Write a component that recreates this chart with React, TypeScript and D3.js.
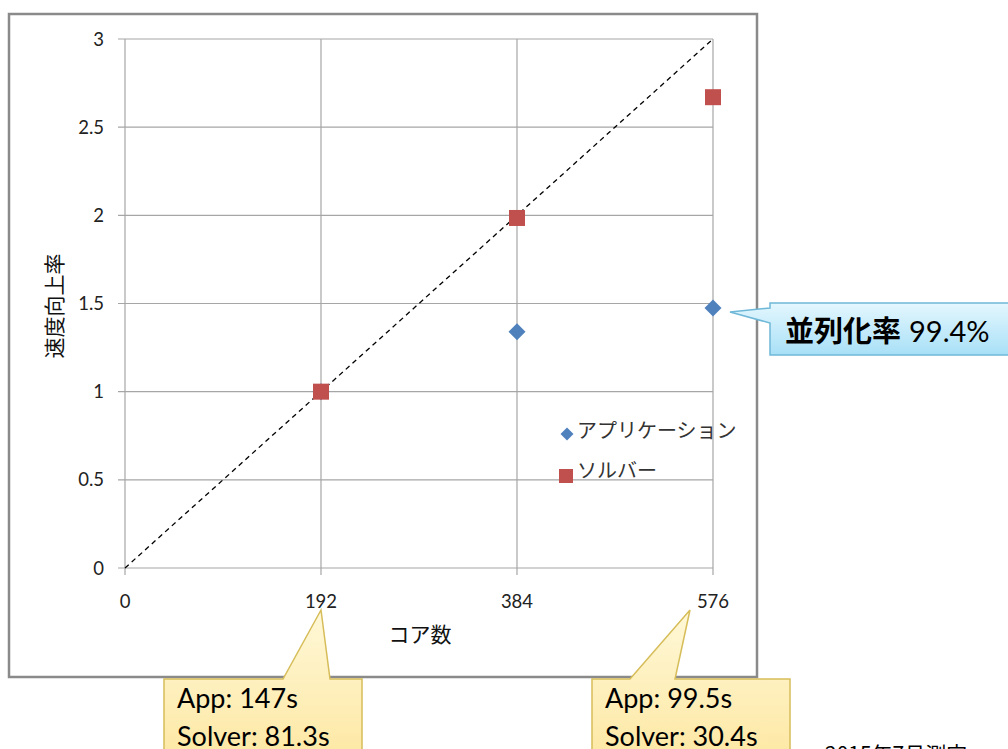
import React from "react";
import * as d3 from "d3";

const cores = [192, 384, 576];
const appSpeedup = [1.0, 1.34, 1.475];
const solverSpeedup = [1.0, 1.985, 2.67];
const xTicks = [0, 192, 384, 576];
const yTicks = [0, 0.5, 1, 1.5, 2, 2.5, 3];
const idealLine = [[0, 0], [576, 3]];
const legendLabels = ["アプリケーション", "ソルバー"];
const callout192 = ["App: 147s", "Solver: 81.3s"];
const callout576 = ["App: 99.5s", "Solver: 30.4s"];
const parallelLabel = ["並列化率", "99.4%"];
const xTitle = "コア数";
const yTitle = "速度向上率";
const dateNote = "2015年7月測定";

const W = 1008;
const H = 749;
const x = d3.scaleLinear().domain([0, 576]).range([125, 713]);
const y = d3.scaleLinear().domain([0, 3]).range([568, 39]);

const latin = "Lato, 'Noto Sans', sans-serif";
const cjk = "'Noto Sans CJK JP', 'Noto Sans', sans-serif";
const grid = "#a6a6a6";
const blue = "#4f81bd";
const red = "#c0504d";

export default function App() {
  const line = d3.line<number[]>().x((d) => x(d[0])).y((d) => y(d[1]));
  const diamond = (cx: number, cy: number, r: number) =>
    `M${cx},${cy - r}L${cx + r},${cy}L${cx},${cy + r}L${cx - r},${cy}Z`;

  const yellowCallout = (tipX: number, boxX: number, baseL: number, baseR: number, lines: string[]) => {
    const top = 679;
    const bw = 198;
    const path = `M${boxX},${top}L${baseL},${top}L${tipX},${610}L${baseR},${top}L${boxX + bw},${top}L${boxX + bw},${H + 20}L${boxX},${H + 20}Z`;
    return (
      <g>
        <path d={path} fill="url(#yellowGrad)" stroke="#d6bd5a" strokeWidth={1.5} />
        {lines.map((t, i) => (
          <text key={i} x={boxX + 13} y={top + 29 + i * 38} fontFamily={latin} fontSize={27} fill="#000">
            {t}
          </text>
        ))}
      </g>
    );
  };

  return (
    <svg
      width={W}
      height={H}
      style={{ position: "fixed", left: 0, top: 0, background: "#fff" }}
      viewBox={`0 0 ${W} ${H}`}
    >
      <defs>
        <linearGradient id="yellowGrad" x1="0" y1="0" x2="0" y2="1">
          <stop offset="0" stopColor="#fff8d8" />
          <stop offset="1" stopColor="#fde7a0" />
        </linearGradient>
        <linearGradient id="blueGrad" x1="0" y1="0" x2="0" y2="1">
          <stop offset="0" stopColor="#e4f7fe" />
          <stop offset="1" stopColor="#a8e0f7" />
        </linearGradient>
      </defs>
      <rect x={0} y={0} width={W} height={H} fill="#fff" />

      {/* chart frame */}
      <rect x={9} y={14} width={748} height={663} fill="#fff" stroke="#8a8a8a" strokeWidth={2.5} />

      {/* horizontal gridlines */}
      {yTicks.map((t) => (
        <line key={"h" + t} x1={118} x2={x(576)} y1={y(t)} y2={y(t)} stroke={grid} strokeWidth={1.2} />
      ))}
      {/* vertical gridlines */}
      {xTicks.map((t) => (
        <line key={"v" + t} x1={x(t)} x2={x(t)} y1={y(3)} y2={575} stroke={grid} strokeWidth={1.2} />
      ))}

      {/* y tick labels */}
      {yTicks.map((t) => (
        <text key={"yl" + t} x={104} y={y(t) + 6.5} textAnchor="end" fontFamily={latin} fontSize={18.5} fill="#222">
          {t}
        </text>
      ))}
      {/* x tick labels */}
      {xTicks.map((t) => (
        <text key={"xl" + t} x={x(t)} y={608} textAnchor="middle" fontFamily={latin} fontSize={18.5} fill="#222">
          {t}
        </text>
      ))}

      {/* axis titles */}
      <text x={420} y={642} textAnchor="middle" fontFamily={cjk} fontSize={21} fill="#111">
        {xTitle}
      </text>
      <text
        transform="translate(62,306) rotate(-90)"
        textAnchor="middle"
        fontFamily={cjk}
        fontSize={21}
        fill="#111"
      >
        {yTitle}
      </text>

      {/* ideal line */}
      <path d={line(idealLine) || ""} fill="none" stroke="#000" strokeWidth={1.3} strokeDasharray="5,4" />

      {/* app series */}
      {cores.map((c, i) => (
        <path key={"a" + c} d={diamond(x(c), y(appSpeedup[i]), 8.5)} fill={blue} />
      ))}
      {/* solver series */}
      {cores.map((c, i) => (
        <rect key={"s" + c} x={x(c) - 8} y={y(solverSpeedup[i]) - 8} width={16} height={16} fill={red} />
      ))}

      {/* legend */}
      <path d={diamond(567, 434, 6.5)} fill={blue} />
      <text x={577} y={438} fontFamily={cjk} fontSize={20} fill="#333">
        {legendLabels[0]}
      </text>
      <rect x={559} y={469} width={14} height={14} fill={red} />
      <text x={577} y={478} fontFamily={cjk} fontSize={20} fill="#333">
        {legendLabels[1]}
      </text>

      {/* parallel callout */}
      <path
        d={`M770,303L1012,303L1012,355L770,355L770,323L730,312L770,308Z`}
        fill="url(#blueGrad)"
        stroke="#6fb8d8"
        strokeWidth={1.5}
      />
      <text x={785} y={342} fontFamily={cjk} fontSize={29} fontWeight={600} fill="#000">
        {parallelLabel[0]}
        <tspan fontFamily={latin} fontWeight={400} fontSize={29} dx={8}>
          {parallelLabel[1]}
        </tspan>
      </text>

      {yellowCallout(x(192), 164, 283, 330, callout192)}
      {yellowCallout(x(576) - 23, 592, 630, 675, callout576)}

      <text x={825} y={762} fontFamily={cjk} fontSize={21} fill="#000">
        {dateNote}
      </text>
    </svg>
  );
}
